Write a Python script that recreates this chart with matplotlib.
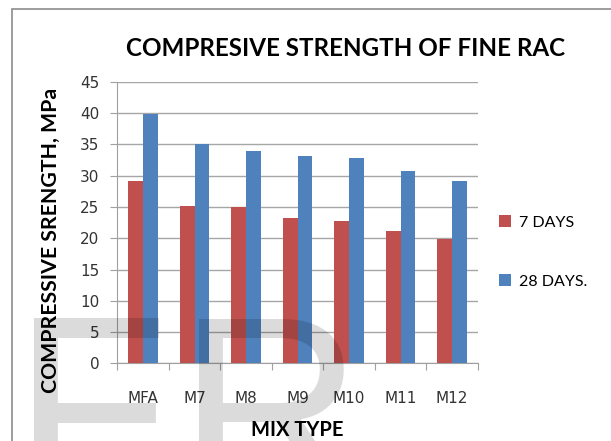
import matplotlib
matplotlib.use('Agg')
import matplotlib.pyplot as plt
from matplotlib.patches import Rectangle
import numpy as np

# compressive strength of fine RAC
mixes = ['MFA', 'M7', 'M8', 'M9', 'M10', 'M11', 'M12']
days7 = [29.2, 25.2, 25.0, 23.2, 22.7, 21.2, 19.9]
days28 = [39.8, 35.1, 33.9, 33.2, 32.8, 30.8, 29.1]
series_names = ['7 DAYS', '28 DAYS.']

plt.rcParams['font.family'] = ['Lato', 'DejaVu Sans']

fig = plt.figure(figsize=(6.11, 4.41), dpi=100)
ax = fig.add_axes([0.192, 0.1762, 0.590, 0.638])

x = np.arange(len(mixes))
w = 0.285
ax.bar(x - w/2, days7, w, color='#C0504D', label=series_names[0], zorder=3)
ax.bar(x + w/2, days28, w, color='#4F81BD', label=series_names[1], zorder=3)

ax.set_xlim(-0.5, len(mixes) - 0.5)
ax.set_ylim(0, 45)
ax.set_yticks(range(0, 46, 5))
ax.yaxis.grid(True, color='#A6A6A6', linewidth=1)
ax.set_axisbelow(True)

# excel style: ticks between categories, labels at centres
ax.set_xticks(np.arange(len(mixes) + 1) - 0.5)
ax.set_xticklabels([])
ax.set_xticks(x, minor=True)
ax.set_xticklabels(mixes, minor=True, fontsize=11, color='#333333', family='DejaVu Sans')
ax.tick_params(axis='x', which='minor', length=0, pad=20)
ax.tick_params(axis='x', which='major', length=5, color='#A0A0A0')
ax.tick_params(axis='y', length=5, color='#A0A0A0', labelsize=11, labelcolor='#333333', pad=8)
for t in ax.get_yticklabels():
    t.set_family('DejaVu Sans')

for s in ['top', 'right']:
    ax.spines[s].set_visible(False)
for s in ['left', 'bottom']:
    ax.spines[s].set_color('#A0A0A0')

fig.text(345.5/611, 1 - 56/441, 'COMPRESIVE STRENGTH OF FINE RAC', fontsize=17.4,
         fontweight='bold', ha='center', va='baseline')
ax.set_xlabel('MIX TYPE', fontsize=14.5, fontweight='bold', labelpad=10)
ax.set_ylabel('COMPRESSIVE SRENGTH, MPa', fontsize=15.3, fontweight='bold')
ax.yaxis.set_label_coords(-0.157, 0.435)

ax.legend(loc='center left', bbox_to_anchor=(1.02, 0.396), frameon=False, fontsize=11.5,
          handlelength=0.75, handleheight=0.75, labelspacing=2.8, handletextpad=0.5)

# chart border
fig.patches.append(Rectangle((12/611, -0.1), 1.2, 1 - 9/441 + 0.1, transform=fig.transFigure,
                             fill=False, edgecolor='#8C8C8C', linewidth=1.2))

# watermark letters
fig.text(13/611, 1 - 495/441, 'F', fontsize=184, family='Liberation Sans', color='black', alpha=0.14, zorder=10)
fig.text(178/611, 1 - 495/441, 'R', fontsize=184, family='Liberation Sans', color='black', alpha=0.14, zorder=10)

fig.savefig('out.png', dpi=100)
